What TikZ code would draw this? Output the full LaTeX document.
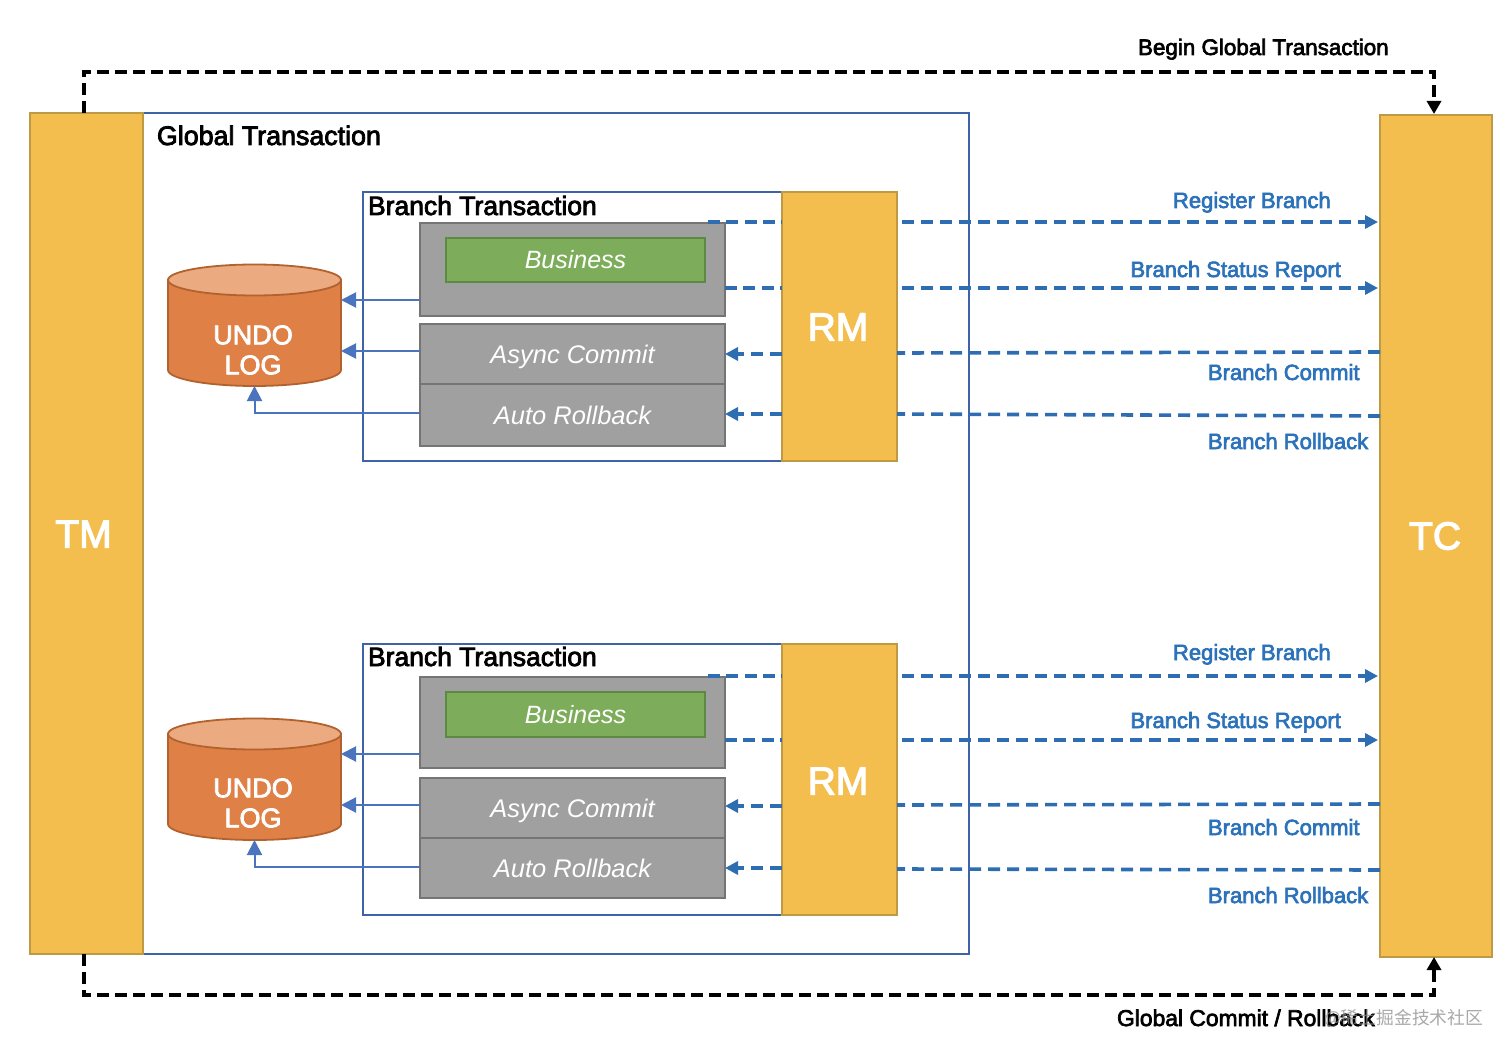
\documentclass[tikz,border=0pt]{standalone}
\usepackage{fontspec}
\setmainfont{Liberation Sans}
\newfontfamily\medfont[FakeBold=3]{Liberation Sans}
\newfontfamily\cjkfont{Noto Sans CJK SC}
\usetikzlibrary{arrows.meta}
\definecolor{amberfill}{HTML}{F3BE4E}
\definecolor{amberline}{HTML}{BF9A45}
\definecolor{frameblue}{HTML}{3F62A8}
\definecolor{linkblue}{HTML}{2F6DB2}
\definecolor{thinblue}{HTML}{4A74BE}
\definecolor{labelblue}{HTML}{2B72BA}
\definecolor{stepgray}{HTML}{A0A0A0}
\definecolor{stepline}{HTML}{757575}
\definecolor{leafgreen}{HTML}{7DAD5B}
\definecolor{leafline}{HTML}{5C8A42}
\definecolor{drumbody}{HTML}{DF8046}
\definecolor{drumtop}{HTML}{EBAA80}
\definecolor{drumline}{HTML}{B2622F}
\tikzset{
  every node/.style={inner sep=0pt,outer sep=0pt},
  amberbox/.style={draw=amberline,fill=amberfill,line width=1.8pt,text=white,font=\medfont\fontsize{39}{39}\selectfont},
  framebox/.style={draw=frameblue,line width=1.8pt},
  graybox/.style={draw=stepline,fill=stepgray,line width=1.8pt,text=white,text height=18pt,text depth=0pt,font=\itshape\fontsize{25.5}{25.5}\selectfont},
  greenbox/.style={draw=leafline,fill=leafgreen,line width=1.8pt,text=white,text height=18pt,text depth=0pt,font=\itshape\fontsize{25}{25}\selectfont},
  drumlabel/.style={text=white,align=center,font=\medfont\fontsize{27}{30}\selectfont},
  heading/.style={anchor=base west,text=black,font=\medfont\fontsize{26.5}{26.5}\selectfont},
  capblack/.style={anchor=base west,text=black,font=\medfont\fontsize{22.4}{22.4}\selectfont},
  capblue/.style={anchor=base west,text=labelblue,font=\medfont\fontsize{22}{22}\selectfont},
  calllink/.style={draw=linkblue,line width=3.6pt,dash pattern=on 12pt off 7pt},
  shortlink/.style={draw=linkblue,line width=3.6pt,dash pattern=on 12pt off 6.3pt},
  calltip/.style={-{Triangle[length=13pt,width=13pt]},calllink},
  flowlink/.style={draw=thinblue,line width=2pt,-{Triangle[length=15pt,width=15pt]}},
  ctrllink/.style={draw=black,line width=3.8pt,dash pattern=on 12pt off 6pt,-{Triangle[length=13pt,width=14pt]}},
}
% box given by its corners: name, left, top, right, bottom, style, text
\newcommand{\cornerbox}[7]{%
  \pgfmathsetmacro{\bw}{#4-#2}\pgfmathsetmacro{\bh}{#5-#3}%
  \pgfmathsetmacro{\cx}{(#2+#4)/2}\pgfmathsetmacro{\cy}{(#3+#5)/2}%
  \node[#6,minimum width=\bw pt,minimum height=\bh pt] (#1) at (\cx,\cy) {#7};}
% log drum: name, top of the cap, bottom of the body
\newcommand{\logdrum}[3]{%
  \pgfmathsetmacro{\cy}{#2+16}\pgfmathsetmacro{\by}{#3-16}\pgfmathsetmacro{\my}{(#2+#3)/2}%
  \pgfmathsetmacro{\bh}{#3-#2}%
  \draw[drumline,fill=drumbody,line width=1.8pt] (168,\cy) -- (168,\by)
     arc[start angle=180,end angle=360,x radius=86.5pt,y radius=16pt]
     -- (341,\cy) -- cycle;
  \draw[drumline,fill=drumtop,line width=1.8pt] (254.5,\cy) ellipse [x radius=86.5pt,y radius=15.5pt];
  \node[minimum width=173pt,minimum height=\bh pt] (#1) at (254.5,\my) {};}
\begin{document}
\begin{tikzpicture}[x=1pt,y=-1pt]
\useasboundingbox (0,0) rectangle (1512,1056);
\fill[white] (0,0) rectangle (1512,1056);

% outer transaction frame and its two coordinators
\cornerbox{global}{143}{113}{969}{954}{framebox}{}
\cornerbox{tm}{30}{113}{143}{954}{amberbox}{}
\node[amberbox,draw=none,fill=none] (tmtext) at (83.5,534) {TM};
\cornerbox{tc}{1380}{115}{1492}{957}{amberbox}{}
\node[amberbox,draw=none,fill=none] (tctext) at (1435,536) {TC};
\node[heading,font=\medfont\fontsize{26.8}{26.8}\selectfont] (globaltitle) at (157,145) {Global Transaction};

% upper branch
\cornerbox{branchA}{363}{192}{782}{461}{framebox}{}
\node[heading] (branchAtitle) at (368,215) {Branch Transaction};
\cornerbox{bizA}{420}{223}{725}{316}{graybox}{}
\cornerbox{innerA}{446}{238}{705}{282}{greenbox}{Business}
\cornerbox{asyncA}{420}{324}{725}{384}{graybox}{Async Commit}
\cornerbox{rollA}{420}{384}{725}{446}{graybox}{Auto Rollback}
\cornerbox{rmA}{782}{192}{897}{461}{amberbox}{}
\node[amberbox,draw=none,fill=none] (rmtextA) at (838,327) {RM};
\logdrum{logA}{264}{386}
\node[drumlabel] (logtextA) at (253,350) {UNDO\\LOG};

% lower branch
\cornerbox{branchB}{363}{644}{782}{915}{framebox}{}
\node[heading] (branchBtitle) at (368,666) {Branch Transaction};
\cornerbox{bizB}{420}{677}{725}{768}{graybox}{}
\cornerbox{innerB}{446}{692}{705}{737}{greenbox}{Business}
\cornerbox{asyncB}{420}{778}{725}{838}{graybox}{Async Commit}
\cornerbox{rollB}{420}{838}{725}{898}{graybox}{Auto Rollback}
\cornerbox{rmB}{782}{644}{897}{915}{amberbox}{}
\node[amberbox,draw=none,fill=none] (rmtextB) at (838,781) {RM};
\logdrum{logB}{718}{840}
\node[drumlabel] (logtextB) at (253,803) {UNDO\\LOG};

% undo log writes, upper branch
\draw[flowlink] (bizA.west |- 0,300) -- (logA.east |- 0,300);
\draw[flowlink] (asyncA.west |- 0,351) -- (logA.east |- 0,351);
\draw[flowlink] (rollA.west |- 0,413) -| (logA.south);
% undo log writes, lower branch
\draw[flowlink] (bizB.west |- 0,754) -- (logB.east |- 0,754);
\draw[flowlink] (asyncB.west |- 0,805) -- (logB.east |- 0,805);
\draw[flowlink] (rollB.west |- 0,867) -| (logB.south);

% resource manager to business logic, upper branch
\draw[shortlink] (708,222) -- (rmA.west |- 0,222);
\draw[shortlink] (bizA.east |- 0,288) -- (rmA.west |- 0,288);
\draw[calltip] (rmA.west |- 0,354) -- (asyncA.east |- 0,354);
\draw[calltip] (rmA.west |- 0,414) -- (rollA.east |- 0,414);
% resource manager to business logic, lower branch
\draw[shortlink] (708,676) -- (rmB.west |- 0,676);
\draw[shortlink] (bizB.east |- 0,740) -- (rmB.west |- 0,740);
\draw[calltip] (rmB.west |- 0,806) -- (asyncB.east |- 0,806);
\draw[calltip] (rmB.west |- 0,868) -- (rollB.east |- 0,868);

% branch traffic to the coordinator, upper branch
\coordinate (rmAreg) at (902,222);
\coordinate (rmAsta) at (902,288);
\draw[calltip,shorten >=2pt] (rmAreg) -- (tc.west |- rmAreg);
\draw[calltip,shorten >=2pt] (rmAsta) -- (tc.west |- rmAsta);
\draw[calllink] (tc.west |- 0,352) -- (rmA.east |- 0,353);
\draw[calllink] (tc.west |- 0,416) -- (rmA.east |- 0,414);
% branch traffic to the coordinator, lower branch
\coordinate (rmBreg) at (902,676);
\coordinate (rmBsta) at (902,740);
\draw[calltip,shorten >=2pt] (rmBreg) -- (tc.west |- rmBreg);
\draw[calltip,shorten >=2pt] (rmBsta) -- (tc.west |- rmBsta);
\draw[calllink] (tc.west |- 0,804) -- (rmB.east |- 0,805);
\draw[calllink] (tc.west |- 0,870) -- (rmB.east |- 0,869);

\node[capblue] (regA) at (1173,208) {Register Branch};
\node[capblue] (staA) at (1130.5,277) {Branch Status Report};
\node[capblue] (comA) at (1208,380) {Branch Commit};
\node[capblue] (rolA) at (1208,449) {Branch Rollback};
\node[capblue] (regB) at (1173,660) {Register Branch};
\node[capblue] (staB) at (1130.5,728) {Branch Status Report};
\node[capblue] (comB) at (1208,835) {Branch Commit};
\node[capblue] (rolB) at (1208,903) {Branch Rollback};

% global begin and global completion
\coordinate (tmtop) at (84,113);
\coordinate (tctop) at (1434,114);
\coordinate (tmbot) at (84,954);
\coordinate (tcbot) at (1434,957);
\draw[ctrllink] (tmtop) -- (84,72) -- (1434,72) -- (tctop);
\draw[ctrllink] (tmbot) -- (84,995) -- (1434,995) -- (tcbot);
\node[capblack] (begincap) at (1138,55) {Begin Global Transaction};
\node[capblack,font=\medfont\fontsize{22.85}{22.85}\selectfont] (endcap) at (1117,1026) {Global Commit / Rollback};

\node[anchor=base west,text=black!45,opacity=.75,font=\cjkfont\fontsize{17.8}{17.8}\selectfont] (mark) at (1324,1024) {@稀土掘金技术社区};
\end{tikzpicture}
\end{document}
